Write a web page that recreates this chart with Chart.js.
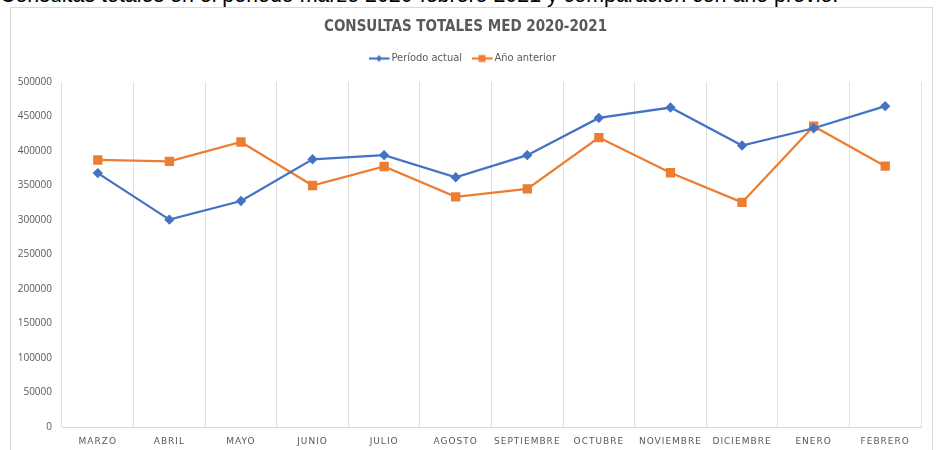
<!DOCTYPE html>
<html>
<head>
<meta charset="utf-8">
<script src="https://cdn.jsdelivr.net/npm/chart.js@4"></script>
<style>
  html, body { margin: 0; padding: 0; background: #fff; }
  body { width: 938px; height: 450px; position: relative; overflow: hidden; }
  .caption {
    position: absolute; left: 0; top: -17px; white-space: nowrap;
    font: 21.4px "Liberation Sans", Arial, sans-serif; color: #000;
  }
  .frame {
    position: absolute; left: 10px; top: 7px; width: 923px; height: 460px;
    border: 1px solid #d9d9d9; box-sizing: border-box;
  }
  #chartBox { position: absolute; left: 10px; top: 7px; width: 923px; height: 443px; }
</style>
</head>
<body>
<div class="caption">Consultas totales en el periodo marzo 2020-febrero 2021 y comparación con año previo.</div>
<div class="frame"></div>
<div id="chartBox"><canvas id="chart"></canvas></div>
<script>
// ─── DATA ─────────────────────────────────────────────────────
const months = ['MARZO', 'ABRIL', 'MAYO', 'JUNIO', 'JULIO', 'AGOSTO', 'SEPTIEMBRE',
                'OCTUBRE', 'NOVIEMBRE', 'DICIEMBRE', 'ENERO', 'FEBRERO'];
const periodoActual = [368000, 300500, 327500, 388000, 394000, 362000, 394000,
                       448000, 463000, 408000, 433000, 465000];
const anioAnterior  = [387000, 385000, 413000, 350000, 377500, 333500, 345000,
                       419500, 368500, 325500, 436000, 378000];
const yTicks = [0, 50000, 100000, 150000, 200000, 250000, 300000, 350000, 400000, 450000, 500000];

const BLUE = '#4472C4';
const ORANGE = '#ED7D31';
const GREY = '#595959';
const FONT = "'Liberation Sans Narrow', 'DejaVu Sans Condensed', 'Open Sans', sans-serif";

// legend icon: short line with the series marker on it
function legendIcon(color, shape) {
    const c = document.createElement('canvas');
    c.width = 24; c.height = 10;
    const g = c.getContext('2d');
    g.strokeStyle = color; g.lineWidth = 2.2;
    g.beginPath(); g.moveTo(0, 5); g.lineTo(21, 5); g.stroke();
    g.fillStyle = color;
    g.beginPath();
    if (shape === 'diamond') {
        g.moveTo(10.5, 1.5); g.lineTo(13.5, 5); g.lineTo(10.5, 8.5); g.lineTo(7.5, 5);
    } else {
        g.rect(7, 1.5, 7, 7);
    }
    g.fill();
    return c;
}
const icons = [legendIcon(BLUE, 'diamond'), legendIcon(ORANGE, 'square')];

// extra gap under the legend
const legendGap = {
    id: 'legendGap',
    beforeInit(chart) {
        const fit = chart.legend.fit;
        chart.legend.fit = function () { fit.call(this); this.height += 8; };
    }
};

// spaced-out month labels, as in the original
const spacedLabels = {
    id: 'spacedLabels',
    afterUpdate(chart) {
        const sc = chart.scales.x;
        if (sc._spaced) return;
        const draw = sc.drawLabels;
        sc.drawLabels = function (area) {
            chart.ctx.save();
            chart.ctx.letterSpacing = '1px';
            draw.call(this, area);
            chart.ctx.restore();
        };
        sc._spaced = true;
    }
};

new Chart(document.getElementById('chart'), {
    type: 'line',
    data: {
        labels: months,
        datasets: [
            {
                label: 'Período actual', data: periodoActual,
                borderColor: BLUE, backgroundColor: BLUE, borderWidth: 2.25,
                pointStyle: 'rectRot', pointRadius: 3.6, pointHoverRadius: 3.6,
                tension: 0
            },
            {
                label: 'Año anterior', data: anioAnterior,
                borderColor: ORANGE, backgroundColor: ORANGE, borderWidth: 2.25,
                pointStyle: 'rect', pointRadius: 5, pointHoverRadius: 5,
                tension: 0
            }
        ]
    },
    options: {
        responsive: true,
        maintainAspectRatio: false,
        animation: false,
        layout: { padding: { left: 0, right: 12, top: 0, bottom: 0 } },
        plugins: {
            title: {
                display: true,
                text: 'CONSULTAS TOTALES MED 2020-2021',
                color: GREY,
                font: { family: FONT, size: 15, weight: 'bold' },
                padding: { top: 11, bottom: 1 }
            },
            legend: {
                position: 'top',
                labels: {
                    color: GREY,
                    font: { family: FONT, size: 11 },
                    usePointStyle: true,
                    padding: 16,
                    boxWidth: 24,
                    generateLabels: chart => chart.data.datasets.map((d, i) => ({
                        text: d.label, fontColor: GREY, pointStyle: icons[i],
                        datasetIndex: i, hidden: false, lineWidth: 0
                    }))
                }
            },
            tooltip: { enabled: false }
        },
        scales: {
            x: {
                offset: true,
                grid: { offset: true, color: '#e0e0e0', lineWidth: 1, drawTicks: false },
                border: { color: '#d9d9d9' },
                ticks: {
                    color: GREY, padding: 9, maxRotation: 0, autoSkip: false,
                    font: { family: "'DejaVu Sans', sans-serif", size: 9 }
                },
                afterFit: s => { s.height = 23; }
            },
            y: {
                min: 0, max: 500000,
                grid: { display: false, drawTicks: false },
                border: { display: false },
                afterBuildTicks: s => { s.ticks = yTicks.map(v => ({ value: v })); },
                ticks: {
                    color: GREY, padding: 10,
                    font: { family: "'Open Sans', sans-serif", size: 10 },
                    callback: v => String(v)
                },
                afterFit: s => { s.width = 52; }
            }
        }
    },
    plugins: [legendGap, spacedLabels]
});
</script>
</body>
</html>
